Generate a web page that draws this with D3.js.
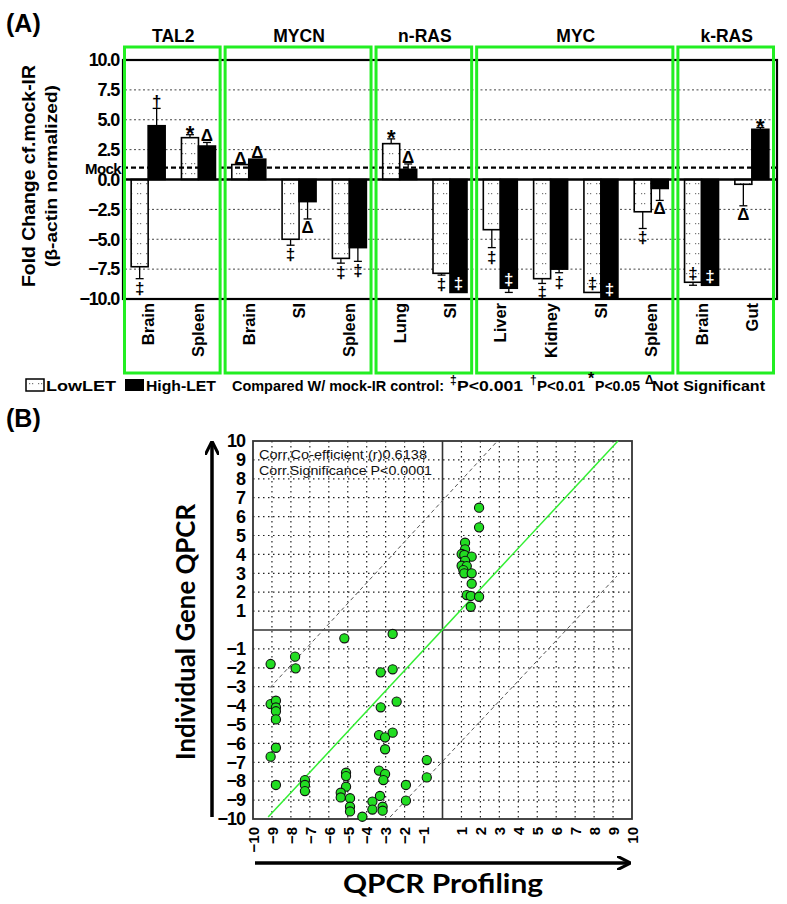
<!DOCTYPE html>
<html><head><meta charset="utf-8">
<script src="https://cdn.jsdelivr.net/npm/d3@7"></script>
<style>
body{margin:0;background:#fff;}
svg{display:block;font-family:"Liberation Sans",Arial,sans-serif;}
</style></head>
<body><svg id="c" width="787" height="904"></svg>
<script>
// ---------- Panel A data ----------
const groups = ["TAL2","MYCN","n-RAS","MYC","k-RAS"];
const groupSizes = [2,3,2,4,2];
const tissues = ["Brain","Spleen","Brain","SI","Spleen","Lung","SI","Liver","Kidney","SI","Spleen","Brain","Gut"];
const lowLET   = [-7.3, 3.5, 1.25, -5.0, -6.6, 3.0, -7.85, -4.2, -8.3, -9.45, -2.7, -8.6, -0.4];
const lowErr   = [-8.3, 3.75, 1.25, -5.5, -7.0, 3.4, -8.0, -5.7, -8.7, -9.45, -4.1, -8.85, -2.2];
const lowSig   = ["‡","*","Δ","‡","‡","*","‡","‡","‡","‡","‡","‡","Δ"];
const lowInside= [0,0,0,0,0,0,0,0,0,1,0,1,0];
const highLET  = [4.5, 2.8, 1.7, -1.85, -5.7, 0.85, -9.45, -9.1, -7.5, -9.95, -0.75, -8.85, 4.2];
const highErr  = [5.95, 3.1, 1.7, -3.3, -6.85, 1.3, -9.45, -9.45, -7.8, -9.95, -1.75, -8.85, 4.35];
const highSig  = ["†","Δ","Δ","Δ","‡","Δ","‡","‡","‡","‡","Δ","‡","*"];
const highInside=[0,0,0,0,0,0,1,1,0,1,0,1,0];
const yTicksA = [10,7.5,5,2.5,0,-2.5,-5,-7.5,-10];
const mockLevel = 1.0;

// ---------- Panel B data ----------
const profX = [1.93,1.93,1.19,1.19,1.01,1.15,1.54,1.19,1.01,1.28,1.1,1.15,1.54,1.54,1.28,1.49,1.93,1.49,
  -5.18,-2.63,-7.78,-9.07,-7.75,-3.26,-2.63,-9.07,-8.79,-8.79,-8.79,-8.79,-2.42,-3.26,
  -3.35,-3.03,-2.63,-3.03,-8.79,-9.07,-0.83,-0.83,-3.35,-3.03,-3.12,-8.79,
  -7.26,-7.26,-7.26,-5.09,-5.09,-5.09,-5.37,-5.37,-4.88,-4.88,-4.88,-4.23,-3.7,-3.7,-3.3,-3.16,-3.16,-1.93,-1.93];
const geneY = [6.47,5.43,4.62,4.27,4.02,3.97,3.88,3.66,3.4,3.38,3.17,3.0,3.0,2.45,1.85,1.8,1.76,1.23,
  -0.44,-0.21,-1.41,-1.8,-2.03,-2.24,-2.08,-3.92,-3.74,-4.1,-4.3,-4.73,-3.79,-4.09,
  -5.56,-5.68,-5.43,-6.31,-6.23,-6.7,-6.88,-7.8,-7.44,-7.62,-7.94,-8.2,
  -7.94,-8.2,-8.52,-7.55,-7.73,-8.29,-8.61,-8.86,-8.9,-9.35,-9.6,-9.88,-9.08,-9.5,-8.78,-9.35,-9.56,-8.2,-9.03];
const fitLine   = [[-9.2,-9.9],[9.26,10]];
const upperBand = [[-9.1,-3.05],[2.9,10]];
const lowerBand = [[-2.77,-9.9],[9.2,2.85]];
const ticksB = [-10,-9,-8,-7,-6,-5,-4,-3,-2,-1,1,2,3,4,5,6,7,8,9,10];
const corrText = ["Corr.Co-efficient (r)0.6138","Corr.Significance P<0.0001"];

const svg = d3.select("#c");
const defs = svg.append("defs");
const pat = defs.append("pattern").attr("id","dots").attr("patternUnits","userSpaceOnUse")
  .attr("width",9).attr("height",10);
pat.append("rect").attr("width",9).attr("height",10).attr("fill","#fff");
pat.append("rect").attr("x",2).attr("y",3).attr("width",1.2).attr("height",1.2).attr("fill","#777");
pat.append("rect").attr("x",5).attr("y",3).attr("width",1.2).attr("height",1.2).attr("fill","#777");
defs.append("marker").attr("id","arr").attr("viewBox","0 0 10 10").attr("refX",8).attr("refY",5)
  .attr("markerWidth",4).attr("markerHeight",4).attr("orient","auto")
  .append("path").attr("d","M0,0 L10,5 L0,10").attr("fill","none").attr("stroke","#000").attr("stroke-width",2.2);

// ================= PANEL A =================
const L=123, R=777, T=60, B=299;
const xA = d3.scaleBand().domain(d3.range(tissues.length)).range([L,R]).padding(0);
const xSub = d3.scaleBand().domain(["low","high"]).range([0,xA.bandwidth()]).paddingInner(0).paddingOuter(0.48);
const yA = d3.scaleLinear().domain([-10,10]).range([B,T]);

svg.append("text").attr("x",6).attr("y",32).attr("font-size",25).attr("font-weight","bold").text("(A)");

// gridlines
const gA = svg.append("g");
gA.selectAll("line.grid").data(yTicksA.filter(v=>v!==0 && Math.abs(v)!==10)).join("line")
  .attr("x1",L+2).attr("x2",R).attr("y1",d=>yA(d)).attr("y2",d=>yA(d))
  .attr("stroke","#444").attr("stroke-width",1).attr("stroke-dasharray","2,2.5");

// y axis
const axA = d3.axisLeft(yA).tickValues(yTicksA).tickFormat(d3.format(".1f")).tickSize(0).tickPadding(4);
const ga = svg.append("g").attr("transform",`translate(${L},0)`).call(axA);
ga.select(".domain").remove();
ga.selectAll("text").attr("font-size",18).attr("font-weight","bold").attr("font-family","Liberation Sans, Arial, sans-serif")
  .attr("letter-spacing","-1.2").attr("fill","#000");

svg.append("text").attr("x",121).attr("y",yA(mockLevel)+6).attr("text-anchor","end")
  .attr("font-size",15).attr("font-weight","bold").attr("letter-spacing","-0.6").text("Mock");

// axis titles
svg.append("text").attr("transform","translate(35,176) rotate(-90)").attr("text-anchor","middle")
  .attr("font-size",18).attr("font-weight","bold").attr("textLength",222).attr("lengthAdjust","spacingAndGlyphs")
  .text("Fold Change cf.mock-IR");
svg.append("text").attr("transform","translate(57,176) rotate(-90)").attr("text-anchor","middle")
  .attr("font-size",17).attr("font-weight","bold").attr("textLength",182).attr("lengthAdjust","spacingAndGlyphs")
  .text("(β-actin normalized)");

// bars
const bars = [];
tissues.forEach((t,i)=>{
  bars.push({i,k:"low",v:lowLET[i],e:lowErr[i],s:lowSig[i],inside:lowInside[i]});
  bars.push({i,k:"high",v:highLET[i],e:highErr[i],s:highSig[i],inside:highInside[i]});
});
const gb = svg.append("g");
gb.selectAll("rect").data(bars).join("rect")
  .attr("x",d=>xA(d.i)+xSub(d.k))
  .attr("width",xSub.bandwidth())
  .attr("y",d=>yA(Math.max(0,d.v)))
  .attr("height",d=>Math.abs(yA(d.v)-yA(0)))
  .attr("fill",d=>d.k==="low"?"url(#dots)":"#000")
  .attr("stroke","#000").attr("stroke-width",1.6);

// error bars
const eb = bars.filter(d=>d.e!==d.v);
const cx = d=>xA(d.i)+xSub(d.k)+xSub.bandwidth()/2;
gb.selectAll("line.err").data(eb).join("line").attr("class","err")
  .attr("x1",cx).attr("x2",cx).attr("y1",d=>yA(d.v)).attr("y2",d=>yA(d.e))
  .attr("stroke","#000").attr("stroke-width",1.3);
gb.selectAll("line.cap").data(eb).join("line").attr("class","cap")
  .attr("x1",d=>cx(d)-4).attr("x2",d=>cx(d)+4).attr("y1",d=>yA(d.e)).attr("y2",d=>yA(d.e))
  .attr("stroke","#000").attr("stroke-width",1.3);

// significance symbols
gb.selectAll("text.sig").data(bars).join("text").attr("class","sig")
  .attr("x",cx)
  .attr("y",d=>{
    if(d.inside) return yA(d.v)-3;
    if(d.v>=0) return yA(d.e)-(d.s==="*"?-6:1);
    return yA(d.e)+(d.s==="Δ"?14:15);
  })
  .attr("text-anchor","middle")
  .attr("font-size",d=>d.s==="*"?22:17).attr("font-weight","bold")
  .attr("fill",d=>(d.inside && d.k==="high")?"#fff":"#000")
  .text(d=>d.s);

// frame
svg.append("line").attr("x1",L).attr("x2",R).attr("y1",yA(mockLevel)).attr("y2",yA(mockLevel))
  .attr("stroke","#000").attr("stroke-width",2.2).attr("stroke-dasharray","5,3");
svg.append("line").attr("x1",L).attr("x2",R).attr("y1",yA(0)).attr("y2",yA(0)).attr("stroke","#000").attr("stroke-width",2.4);
svg.append("rect").attr("x",L).attr("y",T).attr("width",R-L).attr("height",B-T)
  .attr("fill","none").attr("stroke","#000").attr("stroke-width",2.2);

// category labels
svg.selectAll("text.cat").data(tissues).join("text").attr("class","cat")
  .attr("transform",(d,i)=>`translate(${xA(i)+xA.bandwidth()/2+6},${B+4}) rotate(-90)`)
  .attr("text-anchor","end").attr("font-size",16.5).attr("font-weight","bold").text(d=>d);

// group boxes
let start=0;
const gbx = [];
groupSizes.forEach((n,gi)=>{ gbx.push({name:groups[gi],a:start,b:start+n-1}); start+=n; });
svg.selectAll("rect.grp").data(gbx).join("rect").attr("class","grp")
  .attr("x",d=>xA(d.a)+1.5).attr("y",47)
  .attr("width",d=>xA(d.b)+xA.bandwidth()-3.5-(xA(d.a)+1.5)).attr("height",373-47)
  .attr("fill","none").attr("stroke","#22ee22").attr("stroke-width",3);
svg.selectAll("text.grp").data(gbx).join("text").attr("class","grp")
  .attr("x",d=>(xA(d.a)+xA(d.b)+xA.bandwidth())/2).attr("y",42)
  .attr("text-anchor","middle").attr("font-size",17.5).attr("font-weight","bold").text(d=>d.name);

// legend
const LY = 391;
const lg = svg.append("g").attr("font-weight","bold").attr("font-size",14);
lg.append("rect").attr("x",26).attr("y",LY-12).attr("width",18).attr("height",12).attr("fill","url(#dots)").attr("stroke","#000").attr("stroke-width",1.5);
lg.append("text").attr("x",46).attr("y",LY).attr("textLength",70).attr("lengthAdjust","spacingAndGlyphs").text("LowLET");
lg.append("rect").attr("x",125).attr("y",LY-12).attr("width",19).attr("height",12).attr("fill","#000");
lg.append("text").attr("x",146).attr("y",LY).attr("textLength",70).attr("lengthAdjust","spacingAndGlyphs").text("High-LET");
lg.append("text").attr("x",232).attr("y",LY).attr("textLength",212).attr("lengthAdjust","spacingAndGlyphs").text("Compared W/ mock-IR control:");
const legSig = [["‡","P<0.001",450,73],["†","P<0.01",530,55],["*","P<0.05",588,52],["Δ","Not Significant",645,120]];
legSig.forEach(([s,t,x,w])=>{
  lg.append("text").attr("x",x).attr("y",LY-7).attr("font-size",s==="*"?16:12).text(s);
  lg.append("text").attr("x",x+7).attr("y",LY).attr("textLength",w-7).attr("lengthAdjust","spacingAndGlyphs").text(t);
});

// ================= PANEL B =================
svg.append("text").attr("x",6).attr("y",427).attr("font-size",25).attr("font-weight","bold").text("(B)");
const xB = d3.scaleLinear().domain([-10,10]).range([253,632]);
const yB = d3.scaleLinear().domain([-10,10]).range([819,441]);
const gB = svg.append("g");
const gridVals = d3.range(-9,10).filter(v=>v!==0);
gB.selectAll("line.gx").data(gridVals).join("line")
  .attr("x1",d=>xB(d)).attr("x2",d=>xB(d)).attr("y1",yB(10)).attr("y2",yB(-10))
  .attr("stroke","#222").attr("stroke-width",1.2).attr("stroke-dasharray","1.5,3.5");
gB.selectAll("line.gy").data(gridVals).join("line")
  .attr("y1",d=>yB(d)).attr("y2",d=>yB(d)).attr("x1",xB(-10)).attr("x2",xB(10))
  .attr("stroke","#222").attr("stroke-width",1.2).attr("stroke-dasharray","1.5,3.5");
gB.append("line").attr("x1",xB(0)).attr("x2",xB(0)).attr("y1",yB(10)).attr("y2",yB(-10)).attr("stroke","#333").attr("stroke-width",1.6);
gB.append("line").attr("y1",yB(0)).attr("y2",yB(0)).attr("x1",xB(-10)).attr("x2",xB(10)).attr("stroke","#333").attr("stroke-width",1.6);
gB.append("rect").attr("x",xB(-10)).attr("y",yB(10)).attr("width",xB(10)-xB(-10)).attr("height",yB(-10)-yB(10))
  .attr("fill","none").attr("stroke","#333").attr("stroke-width",1.8);

const ln = d3.line().x(d=>xB(d[0])).y(d=>yB(d[1]));
gB.append("path").attr("d",ln(upperBand)).attr("stroke","#555").attr("stroke-width",1).attr("stroke-dasharray","4,3").attr("fill","none");
gB.append("path").attr("d",ln(lowerBand)).attr("stroke","#555").attr("stroke-width",1).attr("stroke-dasharray","4,3").attr("fill","none");
gB.append("path").attr("d",ln(fitLine)).attr("stroke","#33ee33").attr("stroke-width",1.5).attr("fill","none");

gB.selectAll("circle").data(profX.map((x,i)=>[x,geneY[i]])).join("circle")
  .attr("cx",d=>xB(d[0])).attr("cy",d=>yB(d[1])).attr("r",4.6)
  .attr("fill","#22dd22").attr("stroke","#111").attr("stroke-width",1.1);

const corrLen = [168,173];
corrText.forEach((t,i)=>{
  gB.append("text").attr("x",259).attr("y",459+i*16).attr("font-size",12.5).attr("fill","#111")
    .attr("textLength",corrLen[i]).attr("lengthAdjust","spacingAndGlyphs").text(t);
});

// axes B
const axYB = d3.axisLeft(yB).tickValues(ticksB).tickSize(0).tickPadding(8);
const gyb = svg.append("g").attr("transform",`translate(${xB(-10)},0)`).call(axYB);
gyb.select(".domain").remove();
gyb.selectAll("text").attr("font-size",18).attr("font-weight","bold").attr("letter-spacing","-1").attr("fill","#000")
  .attr("font-family","Liberation Sans, Arial, sans-serif");
const axXB = d3.axisBottom(xB).tickValues(ticksB).tickSize(0).tickPadding(0);
const gxb = svg.append("g").attr("transform",`translate(0,${yB(-10)})`).call(axXB);
gxb.select(".domain").remove();
gxb.selectAll("text").attr("font-size",15).attr("font-weight","bold").attr("fill","#000")
  .attr("font-family","Liberation Sans, Arial, sans-serif")
  .attr("transform","rotate(-90)").attr("text-anchor","end").attr("dy","0.35em").attr("x",-8).attr("y",0);

// arrows and titles
svg.append("line").attr("x1",212).attr("x2",212).attr("y1",817).attr("y2",444)
  .attr("stroke","#000").attr("stroke-width",3.5).attr("marker-end","url(#arr)");
svg.append("line").attr("x1",255).attr("x2",628).attr("y1",863).attr("y2",863)
  .attr("stroke","#000").attr("stroke-width",3.5).attr("marker-end","url(#arr)");
svg.append("text").attr("transform","translate(195,632) rotate(-90)").attr("text-anchor","middle")
  .attr("font-family","Lato, 'Open Sans', sans-serif").attr("font-size",27).attr("font-weight","bold")
  .attr("textLength",256).attr("lengthAdjust","spacingAndGlyphs").text("Individual Gene QPCR");
svg.append("text").attr("x",443).attr("y",893).attr("text-anchor","middle")
  .attr("font-family","Lato, 'Open Sans', sans-serif").attr("font-size",27).attr("font-weight","bold")
  .attr("textLength",200).attr("lengthAdjust","spacingAndGlyphs").text("QPCR Profiling");
</script></body></html>
